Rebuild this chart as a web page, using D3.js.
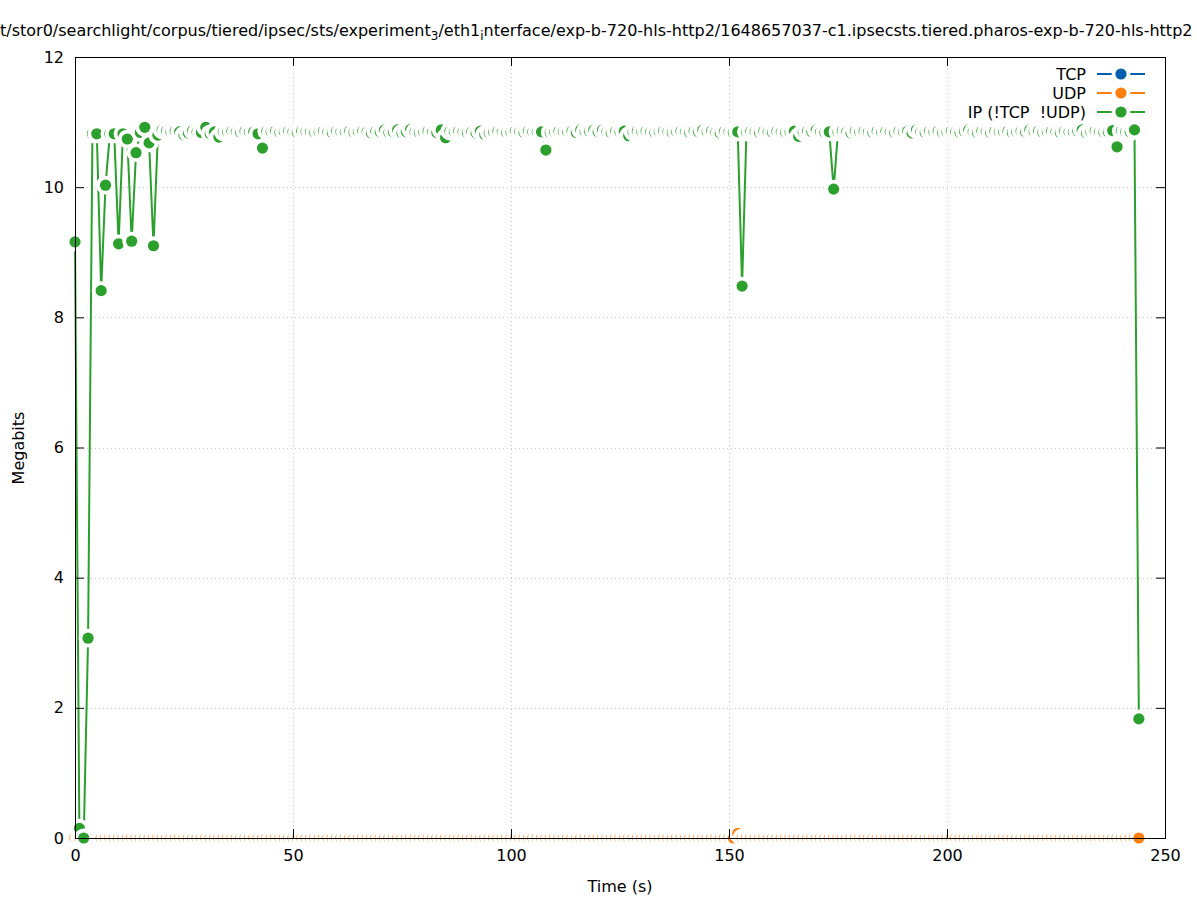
<!DOCTYPE html>
<html><head><meta charset="utf-8">
<script src="https://cdn.jsdelivr.net/npm/d3@7"></script>
<style>
body{margin:0;background:#fff;}
text{font-family:"DejaVu Sans",sans-serif;}
</style></head>
<body><svg id="c" width="1197" height="900"></svg>
<script>
// ---- data ----
const seriesNames = ["TCP", "UDP", "IP (!TCP  !UDP)"];
const seriesColors = ["#0060ad", "#ff7f0e", "#2ca02c"];
const xTicks = [0, 50, 100, 150, 200, 250];
const yTicks = [0, 2, 4, 6, 8, 10, 12];
const timeSec = d3.range(0, 245); // one sample per second, t = 0 .. 244
const tcpMbits = [
0,0,0,0,0,0,0,0,0,0, 0,0,0,0,0,0,0,0,0,0,
0,0,0,0,0,0,0,0,0,0, 0,0,0,0,0,0,0,0,0,0,
0,0,0,0,0,0,0,0,0,0, 0,0,0,0,0,0,0,0,0,0,
0,0,0,0,0,0,0,0,0,0, 0,0,0,0,0,0,0,0,0,0,
0,0,0,0,0,0,0,0,0,0, 0,0,0,0,0,0,0,0,0,0,
0,0,0,0,0,0,0,0,0,0, 0,0,0,0,0,0,0,0,0,0,
0,0,0,0,0,0,0,0,0,0, 0,0,0,0,0,0,0,0,0,0,
0,0,0,0,0,0,0,0,0,0, 0,0,0,0,0,0,0,0,0,0,
0,0,0,0,0,0,0,0,0,0, 0,0,0,0,0,0,0,0,0,0,
0,0,0,0,0,0,0,0,0,0, 0,0,0,0,0,0,0,0,0,0,
0,0,0,0,0,0,0,0,0,0, 0,0,0,0,0,0,0,0,0,0,
0,0,0,0,0,0,0,0,0,0, 0,0,0,0,0,0,0,0,0,0,
0,0,0,0,0];
const udpMbits = [
0,0,0,0,0,0,0,0,0,0, 0,0,0,0,0,0,0,0,0,0,
0,0,0,0,0,0,0,0,0,0, 0,0,0,0,0,0,0,0,0,0,
0,0,0,0,0,0,0,0,0,0, 0,0,0,0,0,0,0,0,0,0,
0,0,0,0,0,0,0,0,0,0, 0,0,0,0,0,0,0,0,0,0,
0,0,0,0,0,0,0,0,0,0, 0,0,0,0,0,0,0,0,0,0,
0,0,0,0,0,0,0,0,0,0, 0,0,0,0,0,0,0,0,0,0,
0,0,0,0,0,0,0,0,0,0, 0,0,0,0,0,0,0,0,0,0,
0,0,0,0,0,0,0,0,0,0, 0,0,0.07,0,0,0,0,0,0,0,
0,0,0,0,0,0,0,0,0,0, 0,0,0,0,0,0,0,0,0,0,
0,0,0,0,0,0,0,0,0,0, 0,0,0,0,0,0,0,0,0,0,
0,0,0,0,0,0,0,0,0,0, 0,0,0,0,0,0,0,0,0,0,
0,0,0,0,0,0,0,0,0,0, 0,0,0,0,0,0,0,0,0,0,
0,0,0,0,0];
const ipMbits = [
9.16, 0.15, 0.00, 3.07, 10.82, 10.82, 8.41, 10.03, 10.82, 10.82,
9.13, 10.82, 10.74, 9.17, 10.53, 10.84, 10.92, 10.68, 9.10, 10.80,
10.88, 10.86, 10.85, 10.86, 10.85, 10.80, 10.83, 10.87, 10.85, 10.84,
10.92, 10.82, 10.85, 10.77, 10.85, 10.85, 10.86, 10.85, 10.84, 10.86,
10.85, 10.85, 10.82, 10.60, 10.86, 10.85, 10.86, 10.84, 10.85, 10.86,
10.85, 10.84, 10.86, 10.85, 10.85, 10.84, 10.85, 10.86, 10.85, 10.84,
10.86, 10.85, 10.85, 10.86, 10.84, 10.85, 10.86, 10.85, 10.83, 10.86,
10.85, 10.88, 10.84, 10.85, 10.88, 10.83, 10.85, 10.89, 10.85, 10.84,
10.85, 10.86, 10.85, 10.84, 10.88, 10.76, 10.86, 10.85, 10.86, 10.85,
10.84, 10.85, 10.83, 10.86, 10.81, 10.84, 10.85, 10.86, 10.85, 10.84,
10.85, 10.86, 10.85, 10.84, 10.86, 10.85, 10.85, 10.85, 10.57, 10.84,
10.85, 10.86, 10.85, 10.85, 10.86, 10.84, 10.88, 10.85, 10.86, 10.88,
10.85, 10.88, 10.85, 10.84, 10.86, 10.85, 10.86, 10.79, 10.85, 10.86,
10.85, 10.86, 10.85, 10.84, 10.85, 10.86, 10.85, 10.84, 10.85, 10.86,
10.85, 10.84, 10.86, 10.85, 10.88, 10.85, 10.86, 10.84, 10.83, 10.86,
10.85, 10.84, 10.85, 8.48, 10.85, 10.86, 10.85, 10.84, 10.86, 10.85,
10.84, 10.86, 10.85, 10.84, 10.85, 10.86, 10.78, 10.85, 10.86, 10.85,
10.88, 10.85, 10.84, 10.85, 9.97, 10.85, 10.86, 10.85, 10.83, 10.86,
10.85, 10.86, 10.85, 10.84, 10.86, 10.85, 10.86, 10.85, 10.84, 10.86,
10.85, 10.86, 10.83, 10.88, 10.85, 10.84, 10.86, 10.85, 10.86, 10.84,
10.85, 10.86, 10.85, 10.84, 10.86, 10.88, 10.85, 10.84, 10.86, 10.85,
10.84, 10.86, 10.85, 10.85, 10.86, 10.84, 10.85, 10.86, 10.85, 10.88,
10.85, 10.86, 10.84, 10.85, 10.86, 10.85, 10.84, 10.86, 10.85, 10.85,
10.86, 10.88, 10.83, 10.85, 10.86, 10.85, 10.84, 10.85, 10.87, 10.62,
10.86, 10.85, 10.85, 10.88, 1.83];
const seriesValues = [tcpMbits, udpMbits, ipMbits];

// ---- layout ----
const svg = d3.select("#c");
const L = 75, R = 1165, T = 57, B = 838;
const x = d3.scaleLinear().domain([0, 250]).range([L, R]);
const y = d3.scaleLinear().domain([0, 12]).range([B, T]);
const PR = 5.6, WR = 9.4;

// grid
const grid = svg.append("g").attr("stroke", "#c8c8c8").attr("stroke-width", 1).attr("stroke-dasharray", "1,3");
grid.selectAll("line.gx").data(xTicks.slice(1, -1)).join("line")
  .attr("x1", d => x(d) + 0.5).attr("x2", d => x(d) + 0.5).attr("y1", T).attr("y2", B);
grid.selectAll("line.gy").data(yTicks.slice(1, -1)).join("line")
  .attr("y1", d => Math.round(y(d)) + 0.5).attr("y2", d => Math.round(y(d)) + 0.5).attr("x1", L).attr("x2", R);

// series
seriesValues.forEach((vals, si) => {
  const pts = timeSec.map((t, i) => [t, vals[i]]);
  const g = svg.append("g");
  g.append("path").datum(pts)
    .attr("fill", "none").attr("stroke", seriesColors[si]).attr("stroke-width", 2)
    .attr("d", d3.line().x(d => x(d[0])).y(d => y(d[1])));
  pts.forEach(p => {
    g.append("circle").attr("cx", x(p[0])).attr("cy", y(p[1])).attr("r", WR).attr("fill", "#fff");
    g.append("circle").attr("cx", x(p[0])).attr("cy", y(p[1])).attr("r", PR).attr("fill", seriesColors[si]);
  });
});

// axes
const fs = "16px";
const ax = svg.append("g").attr("transform", `translate(0,${B})`)
  .call(d3.axisBottom(x).tickValues(xTicks).tickSizeInner(-9).tickSizeOuter(0).tickPadding(12));
const ay = svg.append("g").attr("transform", `translate(${L},0)`)
  .call(d3.axisLeft(y).tickValues(yTicks).tickSizeInner(-9).tickSizeOuter(0).tickPadding(11));
const axT = svg.append("g").attr("transform", `translate(0,${T})`)
  .call(d3.axisTop(x).tickValues(xTicks).tickSizeInner(-9).tickSizeOuter(0).tickFormat(""));
const ayR = svg.append("g").attr("transform", `translate(${R},0)`)
  .call(d3.axisRight(y).tickValues(yTicks).tickSizeInner(-9).tickSizeOuter(0).tickFormat(""));
[ax, ay, axT, ayR].forEach(a => {
  a.select(".domain").remove();
  a.selectAll("text").attr("font-family", "DejaVu Sans").attr("font-size", fs).attr("fill", "#000");
  a.selectAll("line").attr("stroke", "#000");
});
svg.append("rect").attr("x", L + 0.5).attr("y", T + 0.5).attr("width", R - L).attr("height", B - T)
  .attr("fill", "none").attr("stroke", "#000").attr("stroke-width", 1);

// axis labels
svg.append("text").attr("x", 620).attr("y", 892).attr("text-anchor", "middle").attr("font-size", fs).text("Time (s)");
svg.append("text").attr("transform", "translate(24,448) rotate(-90)").attr("text-anchor", "middle").attr("font-size", fs).text("Megabits");

// title
const title = svg.append("text").attr("x", 0).attr("y", 36).attr("font-size", fs);
title.append("tspan").text("t/stor0/searchlight/corpus/tiered/ipsec/sts/experiment");
title.append("tspan").attr("font-size", "12px").attr("dy", 4).text("3");
title.append("tspan").attr("dy", -4).text("/eth1");
title.append("tspan").attr("font-size", "12px").attr("dy", 4).text("i");
title.append("tspan").attr("dy", -4).text("nterface/exp-b-720-hls-http2/1648657037-c1.ipsecsts.tiered.pharos-exp-b-720-hls-http2");

// legend
const lg = svg.append("g");
seriesNames.forEach((name, i) => {
  const yy = 74 + i * 19;
  lg.append("text").attr("x", 1086).attr("y", yy).attr("dy", "0.36em").attr("text-anchor", "end")
    .attr("font-size", fs).style("white-space", "pre").text(name);
  lg.append("line").attr("x1", 1097).attr("x2", 1145).attr("y1", yy).attr("y2", yy)
    .attr("stroke", seriesColors[i]).attr("stroke-width", 2);
  lg.append("circle").attr("cx", 1121).attr("cy", yy).attr("r", WR).attr("fill", "#fff");
  lg.append("circle").attr("cx", 1121).attr("cy", yy).attr("r", PR).attr("fill", seriesColors[i]);
});
</script></body></html>
